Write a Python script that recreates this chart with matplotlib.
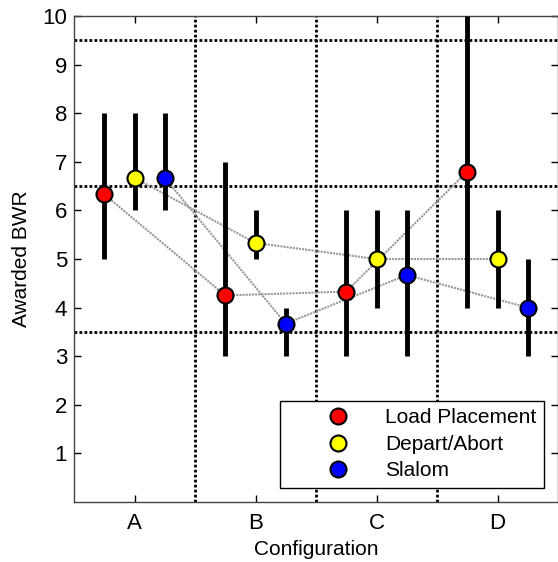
import numpy as np
import matplotlib.pyplot as plt

plt.rcParams['font.family'] = ['Liberation Sans', 'DejaVu Sans']

configs = ['A', 'B', 'C', 'D']
tasks = ['Load Placement', 'Depart/Abort', 'Slalom']
colors = ['red', 'yellow', 'blue']
offsets = [-0.25, 0.0, 0.25]

# median awarded BWR per configuration
load_med = [6.33, 4.25, 4.33, 6.8]
depart_med = [6.67, 5.33, 5.0, 5.0]
slalom_med = [6.67, 3.67, 4.67, 4.0]

# min / max range
load_lo = [5, 3, 3, 4]
load_hi = [8, 7, 6, 10]
depart_lo = [6, 5, 4, 4]
depart_hi = [8, 6, 6, 6]
slalom_lo = [6, 3, 3, 3]
slalom_hi = [8, 4, 6, 5]

meds = [load_med, depart_med, slalom_med]
los = [load_lo, depart_lo, slalom_lo]
his = [load_hi, depart_hi, slalom_hi]

fig = plt.figure(figsize=(5.58, 5.62), dpi=100)
ax = fig.add_axes([74/558, 1-502/562, 484/558, 486/562])

# dotted reference grid
for yv in [3.5, 6.5, 9.5]:
    ax.axhline(yv, color='black', linestyle=(0, (1, 0.8)), lw=2, zorder=1)
for xv in [1.5, 2.5, 3.5]:
    ax.axvline(xv, color='black', linestyle=(0, (1, 0.8)), lw=2, zorder=1)

x = np.arange(1, 5)
for k in range(3):
    xs = x + offsets[k]
    ax.plot(xs, meds[k], color='#999999', linestyle=(0, (1, 0.5)), lw=1.5, zorder=2)
    ax.vlines(xs, los[k], his[k], color='black', lw=3.5, zorder=3)
for k in range(3):
    xs = x + offsets[k]
    ax.plot(xs, meds[k], 'o', markersize=11.5, markerfacecolor=colors[k],
            markeredgecolor='black', markeredgewidth=1.5, linestyle='none',
            zorder=4, label=tasks[k])

ax.set_xlim(0.5, 4.5)
ax.set_ylim(0, 10)
ax.set_xticks(x)
ax.set_xticklabels(configs)
ax.set_yticks(range(1, 11))
ax.tick_params(direction='in', top=True, right=True, labelsize=16, length=5, width=1, pad=5)
ax.tick_params(axis='x', pad=8)
for s in ax.spines.values():
    s.set_color('#444444')
    s.set_linewidth(1)
ax.set_xlabel('Configuration', fontsize=15, labelpad=4)
ax.set_ylabel('Awarded BWR', fontsize=15, labelpad=8)

leg = ax.legend(loc='lower right', bbox_to_anchor=(0.972, 0.028), fontsize=15,
                fancybox=False, edgecolor='black', framealpha=1,
                handletextpad=-0.16, borderpad=0.38, labelspacing=0.36, handlelength=4.84,
                borderaxespad=0)
leg.get_frame().set_linewidth(1)

fig.savefig('out.png', dpi=100)
